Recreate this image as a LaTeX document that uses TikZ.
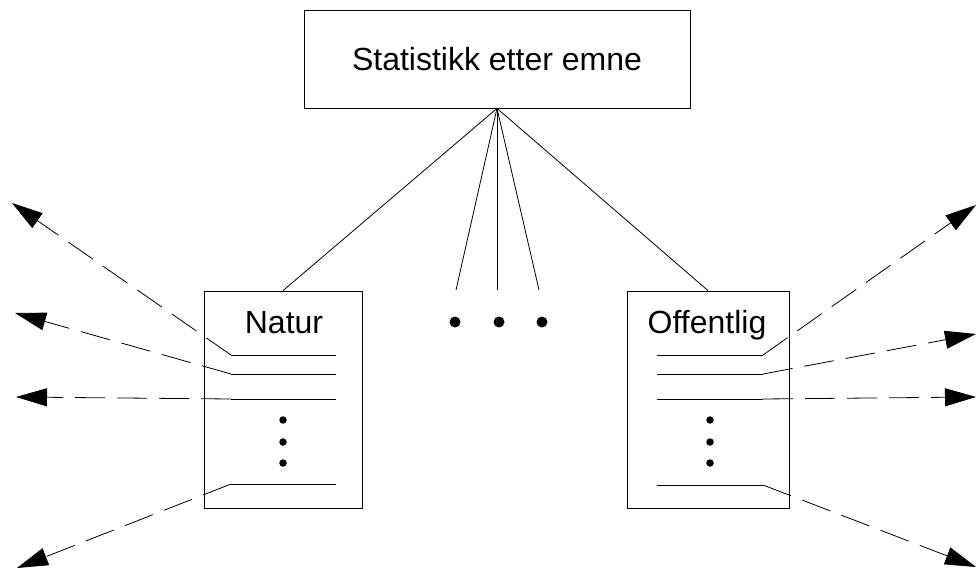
\documentclass[tikz,border=0pt]{standalone}
\usepackage{fontspec}
\setmainfont{Liberation Sans}
\usetikzlibrary{arrows.meta, positioning, calc}

\begin{document}
\begin{tikzpicture}[x=1pt, y=-1pt, line width=0.8pt,
  box/.style={draw, rectangle, inner sep=0pt, font=\fontsize{32}{38}\selectfont},
  boxtitle/.style={anchor=base, inner sep=0pt, font=\fontsize{32}{38}\selectfont},
  dot/.style={circle, fill, inner sep=0pt, minimum size=#1},
  link/.style={dash pattern=on 30pt off 12pt, -{Triangle[length=31pt, width=18pt]}}]
  \useasboundingbox (0,0) rectangle (976,569);

  % Top box
  \node[box, minimum width=386pt, minimum height=98pt] (top) at (497,59) {Statistikk etter emne};

  % Subject boxes
  \node[box, minimum width=158pt, minimum height=217pt] (natur) at (283,399.5) {};
  \node[box, minimum width=162pt, minimum height=217pt] (offentlig) at (708,399.5) {};
  \node[boxtitle] (natur-title) at (284,333) {Natur};
  \node[boxtitle] (offentlig-title) at (707,333) {Offentlig};

  \draw (top.south) -- (natur.north);
  \draw (top.south) -- (offentlig.north);

  % Further subjects
  \foreach \x/\dx/\n in {456/455/a, 497/499/b, 539/542/c} {
    \coordinate (mid-\n) at (\x,290);
    \draw (top.south) -- (mid-\n);
    \node[dot=11pt] (gap-\n) at (\dx,322) {};
  }

  % Rows in Natur
  \foreach \y/\n/\tx/\ty in {355/1/12/203, 374/2/15/313, 399/3/16/397, 484/4/17/568} {
    \coordinate (nat-l\n) at (231,\y);
    \coordinate (nat-r\n) at (336,\y);
    \coordinate (nat-t\n) at (\tx,\ty);
    \draw (nat-l\n) -- (nat-r\n);
    \draw[link] (nat-l\n) -- (nat-t\n);
  }

  % Rows in Offentlig
  \foreach \y/\n/\ty in {355/1/205, 374/2/334, 399/3/397, 485/4/567} {
    \coordinate (off-l\n) at (657,\y);
    \coordinate (off-r\n) at (763,\y);
    \coordinate (off-t\n) at (976,\ty);
    \draw (off-l\n) -- (off-r\n);
    \draw[link] (off-r\n) -- (off-t\n);
  }

  % Vertical dots
  \foreach \y/\n in {420/1, 442/2, 463/3} {
    \node[dot=7.5pt] (nat-dot\n) at (283,\y) {};
    \node[dot=7.5pt] (off-dot\n) at (710,\y) {};
  }
\end{tikzpicture}
\end{document}
